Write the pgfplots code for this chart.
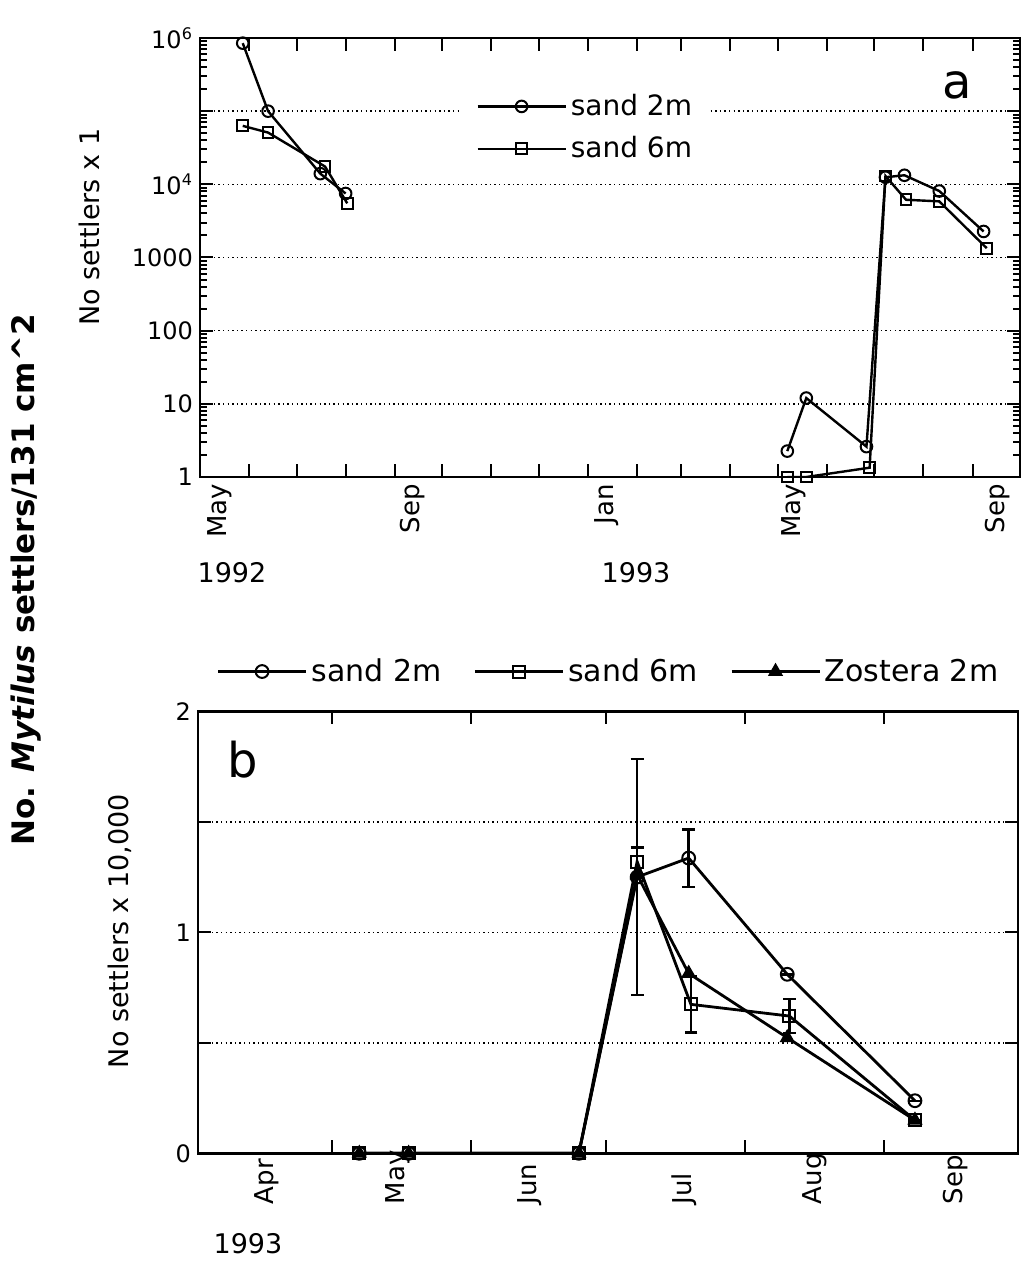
\documentclass[border=0pt]{standalone}
\usepackage{fontspec}
\setmainfont{DejaVu Sans}
\usepackage{pgfplots}
\usepackage{pgfplotstable}
\pgfplotsset{compat=1.18}

% Panel a: days since 1 May 1992
\pgfplotstableread{
x y
27 850000
43 100000
76 14000
92 7500
200 nan
371 2.26
383 12
421 2.6
433 12500
445 13300
467 8100
495 2270
}\sandtwoA
\pgfplotstableread{
x y
27 63000
43 51000
79 17500
93 5500
200 nan
371 1
383 1
423 1.34
433 13000
446 6150
467 5850
497 1340
}\sandsixA
% Panel b: days since 1 April 1993, settlers x 10,000
\pgfplotstableread{
x y e
36 0 0
47 0 0
85 0 0
98 1.25 0.535
109.5 1.336 0.13
131.5 0.81 0
160 0.238 0
}\sandtwoB
\pgfplotstableread{
x y e
36 0 0
47 0 0
85 0 0
98 1.32 0.063
110 0.674 0.128
132 0.621 0.076
160 0.15 0
}\sandsixB
\pgfplotstableread{
x y
36 0
47 0
85 0
98 1.26
109.5 0.814
131.5 0.523
160 0.15
}\zosteraB

\begin{document}
\begin{tikzpicture}
\path[use as bounding box] (0,0) rectangle (513.5pt,-630.5pt);
\pgfplotsset{
  every axis/.append style={
    scale only axis,
    axis line style={line width=1.2pt},
    tick style={line width=1pt, black},
    major tick length=6.5pt,
    minor tick length=3.5pt,
    tick align=inside,
    ymajorgrids,
    major grid style={black, line width=0.7pt, dash pattern=on 0.7pt off 1.6pt},
    legend cell align=left,
    legend image code/.code={\draw[mark repeat=2,mark phase=2,#1] plot coordinates {(0pt,0pt) (22pt,0pt) (44pt,0pt)};},
    yticklabel style={font=\fontsize{12}{14}\selectfont},
    unbounded coords=jump,
  }
}
% ---------------- panel a ----------------
\begin{axis}[
  at={(100pt,-238.5pt)}, anchor=south west,
  width=410pt, height=219.5pt,
  ymode=log, xmin=0, xmax=518, ymin=1, ymax=1000000,
  xtick={31,61,92,123,153,184,214,245,276,304,335,365,396,426,457,488},
  xticklabels={},
  extra x ticks={12.6,134,256.6,374.8,503.5},
  extra x tick labels={May,Sep,Jan,May,Sep},
  extra x tick style={major tick length=0pt, xticklabel style={rotate=90, anchor=east, font=\fontsize{13}{15}\selectfont}},
  ytick={1,10,100,1000,10000,100000,1000000},
  yticklabels={1,10,100,1000,{10\textsuperscript{4}},,{10\textsuperscript{6}}},
  minor ytick={2,3,4,5,6,7,8,9,20,30,40,50,60,70,80,90,200,300,400,500,600,700,800,900,2000,3000,4000,5000,6000,7000,8000,9000,20000,30000,40000,50000,60000,70000,80000,90000,200000,300000,400000,500000,600000,700000,800000,900000},
  legend style={at={(0.3195,0.90)}, anchor=north west, draw=none, fill=white,
    font=\fontsize{14}{16}\selectfont, row sep=5pt, inner xsep=7pt, inner ysep=4pt},
]
\addplot[black, line width=1.2pt, mark=o, mark size=2.9pt, mark options={line width=1pt, fill=white, solid}] table[x=x,y=y] {\sandtwoA};
\addlegendentry{sand 2m}
\addplot[black, line width=1.2pt, mark=square, mark size=2.7pt, mark options={line width=1pt, fill=white, solid}] table[x=x,y=y] {\sandsixA};
\addlegendentry{sand 6m}
\node[font=\fontsize{24}{26}\selectfont] at (rel axis cs:0.923,0.893) {a};
\end{axis}
% ---------------- panel b ----------------
\begin{axis}[
  at={(99pt,-576.65pt)}, anchor=south west,
  width=410pt, height=221pt,
  xmin=0, xmax=183, ymin=0, ymax=2,
  xtick={30,61,91,122,153},
  xticklabels={},
  extra x ticks={15.4,44.6,74,108.5,137.7,169},
  extra x tick labels={Apr,May,Jun,Jul,Aug,Sep},
  extra x tick style={major tick length=0pt, xticklabel style={yshift=-29pt, rotate=90, anchor=west, font=\fontsize{13}{15}\selectfont}},
  ytick={0,0.5,1,1.5,2},
  yticklabels={0,,1,,2},
  legend columns=3,
  legend style={at={(0.015,1.09)}, anchor=west, draw=none, fill=none,
    font=\fontsize{15}{17}\selectfont,
    /tikz/every even column/.append style={column sep=14pt}},
]
\addplot[black, line width=1.4pt, mark=o, mark size=3.2pt, mark options={line width=1pt, fill=white, solid},
  error bars/.cd, y dir=both, y explicit, error bar style={line width=1.2pt}, error mark options={mark size=3.2pt, line width=1.2pt, rotate=90}]
  table[x=x,y=y,y error=e] {\sandtwoB};
\addlegendentry{sand 2m}
\addplot[black, line width=1.4pt, mark=square, mark size=3pt, mark options={line width=1pt, fill=white, solid},
  error bars/.cd, y dir=both, y explicit, error bar style={line width=1.2pt}, error mark options={mark size=3.2pt, line width=1.2pt, rotate=90}]
  table[x=x,y=y,y error=e] {\sandsixB};
\addlegendentry{sand 6m}
\addplot[black, line width=1.4pt, mark=triangle*, mark size=3.8pt, mark options={line width=0.6pt, fill=black, solid}]
  table[x=x,y=y] {\zosteraB};
\addlegendentry{Zostera 2m}
\node[font=\fontsize{24}{26}\selectfont] at (rel axis cs:0.055,0.89) {b};
\end{axis}
% ---------------- outer labels ----------------
\node[rotate=90, font=\fontsize{15.5}{17}\selectfont\bfseries] at (13pt,-290pt) {No. \textit{Mytilus} settlers/131 cm\textasciicircum 2};
\node[rotate=90, font=\fontsize{13.5}{15}\selectfont] at (44.5pt,-113.5pt) {No settlers x 1};
\node[rotate=90, font=\fontsize{13.5}{15}\selectfont] at (59.75pt,-465.5pt) {No settlers x 10,000};
\node[font=\fontsize{13.5}{15}\selectfont] at (116pt,-286.5pt) {1992};
\node[font=\fontsize{13.5}{15}\selectfont] at (318pt,-286.5pt) {1993};
\node[font=\fontsize{13.5}{15}\selectfont, inner sep=0pt] at (124pt,-622pt) {1993};
\end{tikzpicture}
\end{document}
